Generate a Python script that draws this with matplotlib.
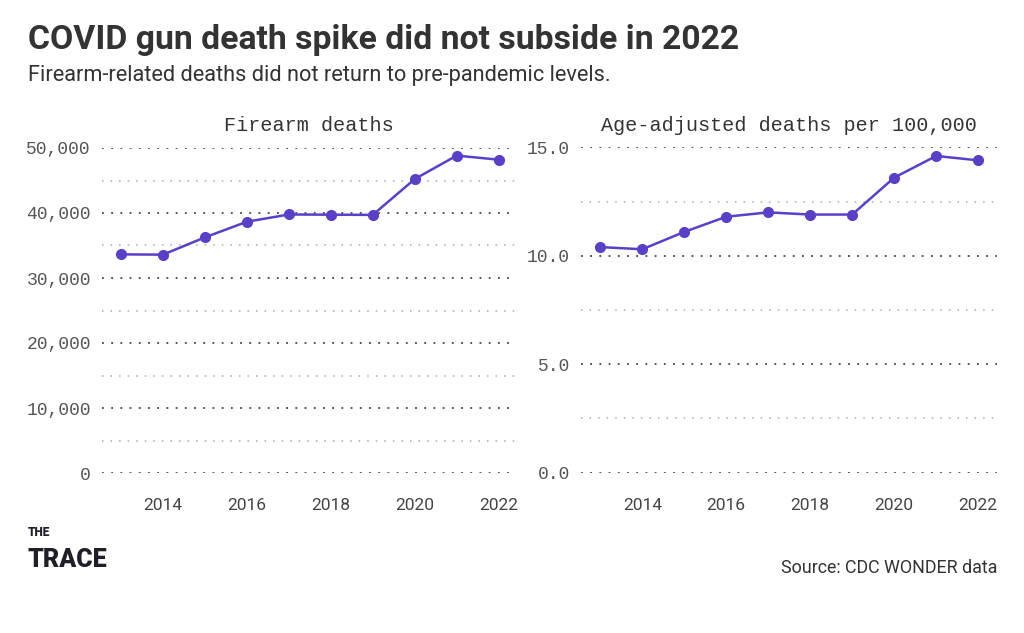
import matplotlib.pyplot as plt
from matplotlib.ticker import FuncFormatter, MultipleLocator

# CDC WONDER firearm deaths, 2013-2022
years = [2013, 2014, 2015, 2016, 2017, 2018, 2019, 2020, 2021, 2022]
deaths = [33636, 33594, 36252, 38658, 39773, 39740, 39707, 45222, 48830, 48204]
rate = [10.4, 10.3, 11.1, 11.8, 12.0, 11.9, 11.9, 13.6, 14.6, 14.4]

panel_titles = ['Firearm deaths', 'Age-adjusted deaths per 100,000']
x_ticks = [2014, 2016, 2018, 2020, 2022]

line_color = '#5a3fc9'
text_color = '#333333'
mono = 'Liberation Mono'

fig = plt.figure(figsize=(10.24, 6.33), dpi=100)
W, H = 1024, 633


def px_axes(x0, x1, y_top, y_bot):
    return fig.add_axes([x0 / W, 1 - y_bot / H, (x1 - x0) / W, (y_bot - y_top) / H])


ax1 = px_axes(102, 515, 148, 473)
ax2 = px_axes(581, 997, 147.3, 472.7)

setups = [
    (ax1, deaths, (0, 50000), 10000, 5000, (2012.547, 2022.39),
     lambda v, p: f'{int(v):,}'),
    (ax2, rate, (0, 15), 5, 2.5, (2012.54, 2022.45),
     lambda v, p: f'{v:.1f}'),
]

for (ax, vals, ylim, major, minor, xlim, fmt), title in zip(setups, panel_titles):
    ax.plot(years, vals, color=line_color, lw=1.8, marker='o', ms=7,
            clip_on=False, zorder=3)
    ax.set_ylim(*ylim)
    ax.set_xlim(*xlim)
    ax.yaxis.set_major_locator(MultipleLocator(major))
    ax.yaxis.set_minor_locator(MultipleLocator(minor))
    ax.yaxis.set_major_formatter(FuncFormatter(fmt))
    ax.set_xticks(x_ticks)
    ax.grid(axis='y', which='major', color='#444444', lw=1.3,
            linestyle=(0, (1, 4.1)))
    ax.grid(axis='y', which='minor', color='#aaaaaa', lw=1.1,
            linestyle=(0, (1, 4.6)))
    ax.set_axisbelow(True)
    for s in ax.spines.values():
        s.set_visible(False)
    ax.tick_params(axis='both', which='both', length=0)
    ax.tick_params(axis='y', pad=8, labelcolor='#555555')
    ax.tick_params(axis='x', pad=18, labelcolor='#444444')
    for lab in ax.get_yticklabels():
        lab.set_fontfamily(mono)
        lab.set_fontsize(13)
    for lab in ax.get_xticklabels():
        lab.set_fontfamily('Roboto')
        lab.set_fontsize(12.5)
    ax.set_title(title, fontfamily=mono, fontsize=14.5, color=text_color, pad=12)

fig.text(28 / W, 1 - 40 / H, 'COVID gun death spike did not subside in 2022',
         fontfamily='Roboto', fontweight='bold', fontsize=24.3, color=text_color,
         va='center', ha='left')
fig.text(28 / W, 1 - 75 / H,
         'Firearm-related deaths did not return to pre-pandemic levels.',
         fontfamily='Roboto', fontsize=15.7, color=text_color, va='center', ha='left')
fig.text(997 / W, 1 - 568 / H, 'Source: CDC WONDER data',
         fontfamily='Roboto', fontsize=12.9, color=text_color, va='center', ha='right')

# logo
fig.text(28 / W, 1 - 532 / H, 'THE', fontfamily='Roboto',
         fontweight='black', fontsize=8.5, color='#1f1f28', va='center', ha='left')
fig.text(27 / W, 1 - 560 / H, 'TRACE', fontfamily='Roboto',
         fontweight='black', fontsize=18, color='#1f1f28', va='center', ha='left')

plt.savefig('out.png', dpi=100)
